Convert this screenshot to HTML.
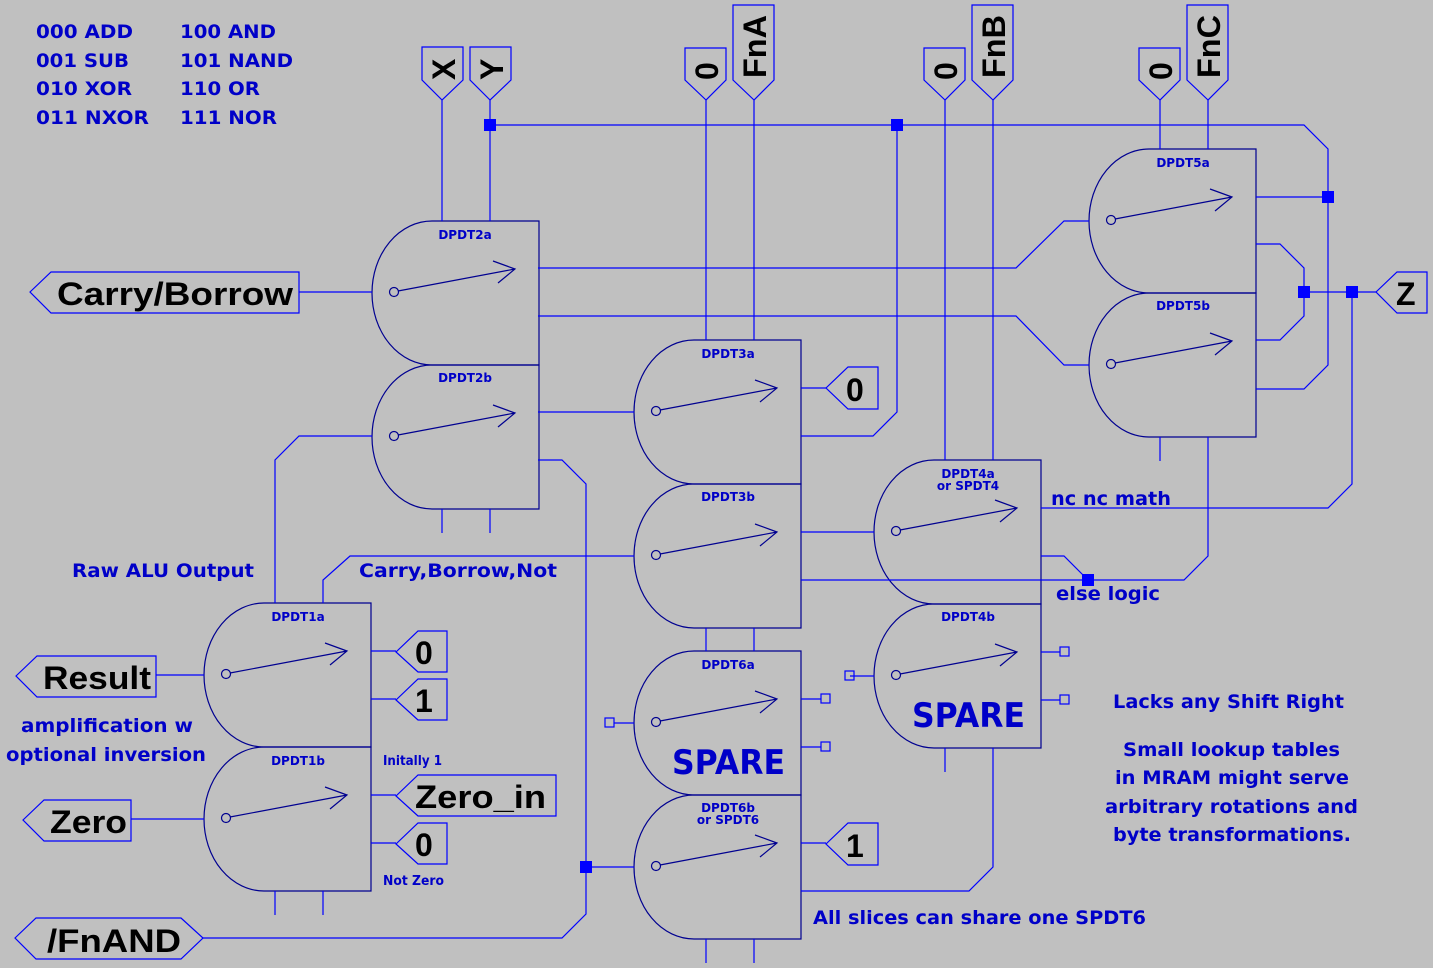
<!DOCTYPE html>
<html><head><meta charset="utf-8"><style>
html,body{margin:0;padding:0;background:#c0c0c0;}
svg{display:block;}
.w{stroke:#0000ff;stroke-width:1.2;fill:none;}
.b{stroke:#000090;stroke-width:1.2;fill:none;}
.bl{fill:#0000c8;font-family:"DejaVu Sans","Liberation Sans",sans-serif;font-weight:bold;}
.bk{fill:#000;font-family:"Liberation Sans","DejaVu Sans",sans-serif;font-weight:bold;}
.rl{fill:#0000c8;font-family:"DejaVu Sans","Liberation Sans",sans-serif;font-weight:bold;font-size:12px;text-anchor:middle;}
.j{fill:#0000ff;}
</style></head><body>
<svg width="1433" height="968" viewBox="0 0 1433 968" xmlns="http://www.w3.org/2000/svg">
<defs>
<g id="r">
<path class="b" d="M60,0 H167 V144 H60 A60,72 0 0 1 60,0 Z"/>
<circle class="b" cx="22" cy="71" r="4.5"/>
<path class="b" d="M26,70 L143,48 M121,40 L143,48 L126,62"/>
</g>
</defs>
<rect width="1433" height="968" fill="#c0c0c0"/>

<!-- relays -->
<use href="#r" x="372" y="221"/><use href="#r" x="372" y="365"/>
<use href="#r" x="1089" y="149"/><use href="#r" x="1089" y="293"/>
<use href="#r" x="634" y="340"/><use href="#r" x="634" y="484"/>
<use href="#r" x="874" y="460"/><use href="#r" x="874" y="604"/>
<use href="#r" x="204" y="603"/><use href="#r" x="204" y="747"/>
<use href="#r" x="634" y="651"/><use href="#r" x="634" y="795"/>

<!-- wires -->
<path class="w" d="
M442,100 V221 M490,100 V221
M490,125 H1304 L1328,149 V365 L1304,389 H1256
M1256,197 H1328
M897,125 V412 L873,436 H801
M801,388 H826
M706,100 V340 M754,100 V340
M945,100 V460 M993,100 V460
M1160,100 V149 M1208,100 V149
M299,292 H372
M538,268 H1016 L1064,221 H1089
M538,316 H1016 L1064,365 H1089
M372,436 H299 L275,460 V603
M538,412 H634
M538,460 H562 L586,484 V914 L562,938 H203
M586,867 H634
M442,509 V533 M490,509 V533
M1160,437 V461
M1208,437 V556 L1184,580 H801
M1041,556 H1064 L1088,580
M1041,508 H1328 L1352,484 V292
M1256,244 H1280 L1304,268 V316 L1280,340 H1256
M1304,292 H1376
M634,556 H350 L323,580 V603
M801,532 H874
M706,628 V651 M754,628 V651
M850,676 H874
M1041,652 H1060 M1041,700 H1060
M945,748 V772
M993,748 V867 L969,891 H801
M634,723 H614
M801,699 H821 M801,747 H821
M801,843 H826
M706,939 V963 M754,939 V963
M156,675 H204
M371,651 H396 M371,699 H396
M131,819 H204
M371,795 H396 M371,843 H396
M275,891 V915 M323,891 V915
"/>
<!-- small pin squares -->
<g class="w">
<rect x="845" y="671" width="9" height="9"/>
<rect x="1060" y="647" width="9" height="9"/>
<rect x="1060" y="695" width="9" height="9"/>
<rect x="605" y="718" width="9" height="9"/>
<rect x="821" y="694" width="9" height="9"/>
<rect x="821" y="742" width="9" height="9"/>
</g>
<!-- junctions -->
<g class="j">
<rect x="484" y="119" width="12" height="12"/>
<rect x="891" y="119" width="12" height="12"/>
<rect x="1322" y="191" width="12" height="12"/>
<rect x="1298" y="286" width="12" height="12"/>
<rect x="1346" y="286" width="12" height="12"/>
<rect x="1082" y="574" width="12" height="12"/>
<rect x="580" y="861" width="12" height="12"/>
</g>

<!-- flags -->
<g class="w">
<path d="M30,292 L51,272 H299 V313 H51 Z"/>
<path d="M16,676 L37,656 H156 V697 H37 Z"/>
<path d="M23,820 L44,800 H131 V841 H44 Z"/>
<path d="M15,938 L36,918 H181 L203,938 L181,959 H36 Z"/>
<path d="M1376,292 L1386,282 L1386,272 H1427 V313 H1386 L1386,302 Z" style="display:none"/>
<path d="M1376,292 L1397,272 H1427 V313 H1397 Z"/>
<path d="M826,388 L848,367 H878 V409 H848 Z"/>
<path d="M826,844 L848,823 H878 V865 H848 Z"/>
<path d="M396,652 L418,631 H447 V672 H418 Z"/>
<path d="M396,700 L418,679 H447 V720 H418 Z"/>
<path d="M396,796 L418,775 H556 V816 H418 Z"/>
<path d="M396,844 L418,823 H447 V864 H418 Z"/>
<path d="M442,100 L422,80 V47 H463 V80 Z"/>
<path d="M490,100 L470,80 V47 H511 V80 Z"/>
<path d="M706,100 L685,80 V48 H726 V80 Z"/>
<path d="M754,100 L733,80 V5 H774 V80 Z"/>
<path d="M945,100 L924,80 V48 H965 V80 Z"/>
<path d="M993,100 L972,80 V5 H1013 V80 Z"/>
<path d="M1160,100 L1139,80 V48 H1180 V80 Z"/>
<path d="M1208,100 L1187,80 V5 H1228 V80 Z"/>
</g>

<!-- flag text -->
<g class="bk" font-size="32">
<text x="57" y="305" textLength="236" lengthAdjust="spacingAndGlyphs">Carry/Borrow</text>
<text x="43" y="689" textLength="108" lengthAdjust="spacingAndGlyphs">Result</text>
<text x="50" y="833" textLength="77" lengthAdjust="spacingAndGlyphs">Zero</text>
<text x="47" y="952" textLength="134" lengthAdjust="spacingAndGlyphs">/FnAND</text>
<text x="1396" y="305">Z</text>
<text x="415" y="808" textLength="131" lengthAdjust="spacingAndGlyphs">Zero_in</text>
<text x="415" y="664">0</text>
<text x="415" y="712">1</text>
<text x="415" y="856">0</text>
<text x="846" y="401">0</text>
<text x="846" y="857">1</text>
<text transform="translate(455,80) rotate(-90)">X</text>
<text transform="translate(503,80) rotate(-90)">Y</text>
<text transform="translate(718,80) rotate(-90)">0</text>
<text transform="translate(766,78) rotate(-90)" textLength="63" lengthAdjust="spacingAndGlyphs">FnA</text>
<text transform="translate(957,80) rotate(-90)">0</text>
<text transform="translate(1005,78) rotate(-90)" textLength="63" lengthAdjust="spacingAndGlyphs">FnB</text>
<text transform="translate(1172,80) rotate(-90)">0</text>
<text transform="translate(1220,78) rotate(-90)" textLength="63" lengthAdjust="spacingAndGlyphs">FnC</text>
</g>

<!-- relay labels -->
<g class="rl">
<text x="465" y="239">DPDT2a</text>
<text x="465" y="382">DPDT2b</text>
<text x="1183" y="167">DPDT5a</text>
<text x="1183" y="310">DPDT5b</text>
<text x="728" y="358">DPDT3a</text>
<text x="728" y="501">DPDT3b</text>
<text x="968" y="478">DPDT4a</text>
<text x="968" y="490">or SPDT4</text>
<text x="968" y="621">DPDT4b</text>
<text x="298" y="621">DPDT1a</text>
<text x="298" y="765">DPDT1b</text>
<text x="728" y="669">DPDT6a</text>
<text x="728" y="812">DPDT6b</text>
<text x="728" y="824">or SPDT6</text>
</g>

<!-- blue text -->
<g class="bl" font-size="19">
<text x="36" y="38" textLength="97" lengthAdjust="spacingAndGlyphs">000 ADD</text>
<text x="36" y="67" textLength="93" lengthAdjust="spacingAndGlyphs">001 SUB</text>
<text x="36" y="95" textLength="96" lengthAdjust="spacingAndGlyphs">010 XOR</text>
<text x="36" y="124" textLength="113" lengthAdjust="spacingAndGlyphs">011 NXOR</text>
<text x="180" y="38" textLength="96" lengthAdjust="spacingAndGlyphs">100 AND</text>
<text x="180" y="67" textLength="113" lengthAdjust="spacingAndGlyphs">101 NAND</text>
<text x="180" y="95" textLength="80" lengthAdjust="spacingAndGlyphs">110 OR</text>
<text x="180" y="124" textLength="97" lengthAdjust="spacingAndGlyphs">111 NOR</text>
<text x="72" y="577" textLength="182" lengthAdjust="spacingAndGlyphs">Raw ALU Output</text>
<text x="359" y="577" textLength="198" lengthAdjust="spacingAndGlyphs">Carry,Borrow,Not</text>
<text x="21" y="732" textLength="172" lengthAdjust="spacingAndGlyphs">amplification w</text>
<text x="6" y="761" textLength="200" lengthAdjust="spacingAndGlyphs">optional inversion</text>
<text x="1051" y="505" textLength="120" lengthAdjust="spacingAndGlyphs">nc nc math</text>
<text x="1056" y="600" textLength="104" lengthAdjust="spacingAndGlyphs">else logic</text>
<text x="813" y="924" textLength="333" lengthAdjust="spacingAndGlyphs">All slices can share one SPDT6</text>
<text x="1113" y="708" textLength="231" lengthAdjust="spacingAndGlyphs">Lacks any Shift Right</text>
<text x="1123" y="756" textLength="217" lengthAdjust="spacingAndGlyphs">Small lookup tables</text>
<text x="1115" y="784" textLength="234" lengthAdjust="spacingAndGlyphs">in MRAM might serve</text>
<text x="1105" y="813" textLength="253" lengthAdjust="spacingAndGlyphs">arbitrary rotations and</text>
<text x="1113" y="841" textLength="238" lengthAdjust="spacingAndGlyphs">byte transformations.</text>
</g>
<g class="bl" font-size="13">
<text x="383" y="765" textLength="59" lengthAdjust="spacingAndGlyphs">Initally 1</text>
<text x="383" y="885" textLength="61" lengthAdjust="spacingAndGlyphs">Not Zero</text>
</g>
<g class="bl" font-size="34">
<text x="672" y="774" textLength="113" lengthAdjust="spacingAndGlyphs">SPARE</text>
<text x="912" y="727" textLength="113" lengthAdjust="spacingAndGlyphs">SPARE</text>
</g>
</svg>
</body></html>
